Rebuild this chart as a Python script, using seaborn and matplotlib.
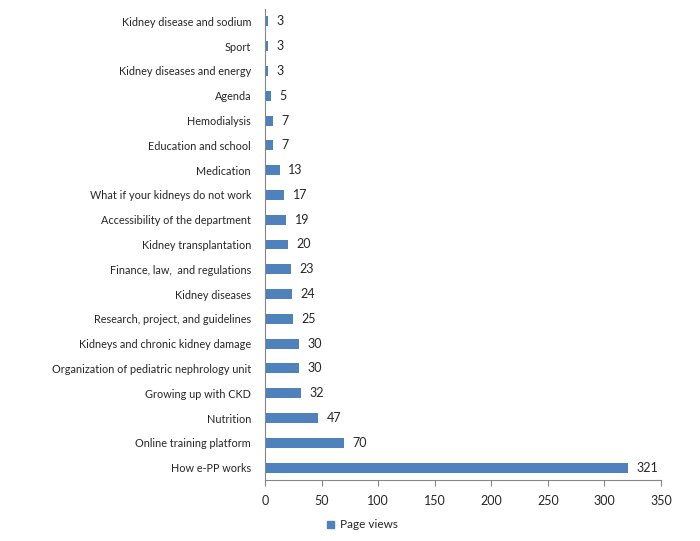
import matplotlib
matplotlib.use("Agg")
import matplotlib.pyplot as plt
import seaborn as sns
import pandas as pd
from matplotlib.patches import Patch

categories = [
    "Kidney disease and sodium", "Sport", "Kidney diseases and energy", "Agenda",
    "Hemodialysis", "Education and school", "Medication",
    "What if your kidneys do not work", "Accessibility of the department",
    "Kidney transplantation", "Finance, law,  and regulations", "Kidney diseases",
    "Research, project, and guidelines", "Kidneys and chronic kidney damage",
    "Organization of pediatric nephrology unit", "Growing up with CKD",
    "Nutrition", "Online training platform", "How e-PP works",
]
page_views = [3, 3, 3, 5, 7, 7, 13, 17, 19, 20, 23, 24, 25, 30, 30, 32, 47, 70, 321]
x_ticks = [0, 50, 100, 150, 200, 250, 300, 350]
series_name = "Page views"

sns.set_style("white")
plt.rcParams["font.family"] = ["Lato", "DejaVu Sans"]

df = pd.DataFrame({"cat": categories, "val": page_views})
color = "#4F81BD"

fig = plt.figure(figsize=(7, 5.41), dpi=100)
ax = fig.add_axes([265/700, 1-480/541, (661-265)/700, (480-9)/541])
sns.barplot(data=df, y="cat", x="val", color=color, width=0.4, ax=ax,
            saturation=1, orient="h", linewidth=0, edgecolor="none")
ax.set_xlim(0, 350)
ax.set_xticks(x_ticks)
ax.set_xlabel("")
ax.set_ylabel("")
ax.tick_params(axis="x", labelsize=9, length=4, color="#868686", pad=7, direction="out")
ax.tick_params(axis="y", labelsize=7.8, length=0, pad=10)
for s in ["top", "right"]:
    ax.spines[s].set_visible(False)
for s in ["left", "bottom"]:
    ax.spines[s].set_color("#868686")
    ax.spines[s].set_linewidth(0.8)
ax.xaxis.set_ticks_position("bottom")
for c in ax.containers:
    ax.bar_label(c, padding=6, fontsize=9)

fig.legend(handles=[Patch(color=color, label=series_name)], loc="center",
           bbox_to_anchor=(362/700, 1-525/541), frameon=False, fontsize=8.5,
           handlelength=0.6, handleheight=0.6, handletextpad=0.5)
fig.savefig("out.png", dpi=100)
